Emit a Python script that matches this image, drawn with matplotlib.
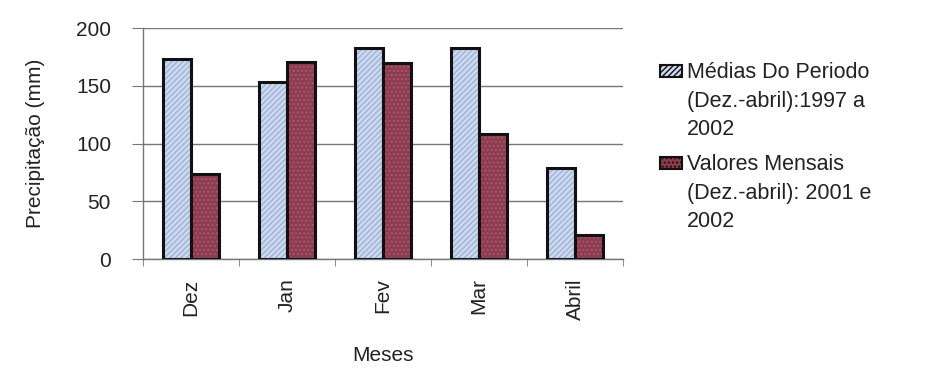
import numpy as np
import matplotlib.pyplot as plt
from matplotlib.patches import Rectangle

plt.rcParams['font.family'] = ['Liberation Sans', 'DejaVu Sans']

meses = ['Dez', 'Jan', 'Fev', 'Mar', 'Abril']
medias = [173, 153, 183, 183, 79]
mensais = [74, 171, 170, 108, 21]
labels = ['Médias Do Periodo\n(Dez.-abril):1997 a\n2002',
          'Valores Mensais\n(Dez.-abril): 2001 e\n2002']
cor_medias = '#cdd9f0'
cor_mensais = '#8e3b50'

W, H = 953, 369
fig = plt.figure(figsize=(W / 100, H / 100), dpi=100)
ax = fig.add_axes([0.150, 0.298, 0.504, 0.626])

x = np.arange(len(meses))
w = 0.29

# textured fill first, then a heavy black outline on top
ax.bar(x - w / 2, medias, w, color=cor_medias, edgecolor='#9fb3d8',
       hatch='//////', linewidth=0, zorder=3)
ax.bar(x + w / 2, mensais, w, color=cor_mensais, edgecolor='#a55a6c',
       hatch='....', linewidth=0, zorder=3)
ax.bar(x - w / 2, medias, w, fill=False, edgecolor='#111111',
       linewidth=2.2, zorder=4)
ax.bar(x + w / 2, mensais, w, fill=False, edgecolor='#111111',
       linewidth=2.2, zorder=4)

ax.set_xlim(-0.5, len(meses) - 0.5)
ax.set_ylim(0, 200)
ax.set_yticks([0, 50, 100, 150, 200])
ax.yaxis.grid(True, color='#777777', linewidth=1)
ax.set_axisbelow(True)

ax.set_xticks(x)
ax.set_xticklabels(meses, rotation=90, fontsize=15, color='#222222')
ax.set_xticks(np.arange(-0.5, len(meses)), minor=True)
ax.tick_params(axis='x', which='major', length=0, pad=14)
ax.tick_params(axis='x', which='minor', length=5, color='#777777')
ax.tick_params(axis='y', length=8, color='#777777', pad=15, labelsize=15,
               labelcolor='#222222')

for s in ['top', 'right']:
    ax.spines[s].set_visible(False)
for s in ['left', 'bottom']:
    ax.spines[s].set_color('#777777')
    ax.spines[s].set_linewidth(1)

ax.set_ylabel('Precipitação (mm)', fontsize=15, labelpad=22, color='#222222')
ax.set_xlabel('Meses', fontsize=15, labelpad=19, color='#222222')

# legend: swatch beside the first line of each wrapped label
entries = [(cor_medias, '//////', labels[0], 78),
           (cor_mensais, '....', labels[1], 170)]
for cor, hatch, texto, base in entries:
    fig.add_artist(Rectangle((660 / W, 1 - (base - 1) / H), 22 / W, 12 / H,
                             transform=fig.transFigure, facecolor=cor,
                             edgecolor='#111111', hatch=hatch, linewidth=1.5))
    for i, linha in enumerate(texto.split('\n')):
        fig.text(687 / W, 1 - (base + i * 28.5) / H, linha, fontsize=15.5,
                 color='#222222', va='baseline', ha='left')

fig.savefig('out.png', dpi=100)
